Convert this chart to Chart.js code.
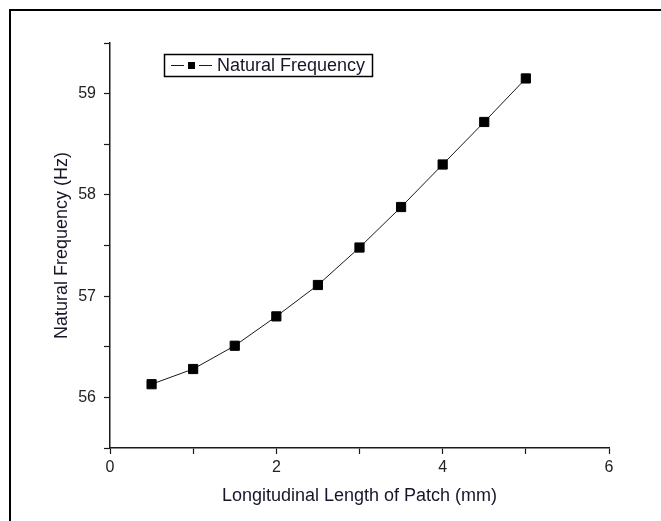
<!DOCTYPE html>
<html>
<head>
<meta charset="utf-8">
<script src="https://cdn.jsdelivr.net/npm/chart.js@4/dist/chart.umd.min.js"></script>
<style>
  html, body { margin: 0; padding: 0; background: #fff; }
  canvas { display: block; }
</style>
</head>
<body>
<canvas id="chart" width="661" height="521"></canvas>
<script>
const lengths = [0.5, 1, 1.5, 2, 2.5, 3, 3.5, 4, 4.5, 5];
const frequencies = [56.13, 56.28, 56.51, 56.80, 57.11, 57.48, 57.88, 58.30, 58.72, 59.15];
const xTickLabels = [0, 2, 4, 6];
const yTickLabels = [56, 57, 58, 59];
const seriesName = "Natural Frequency";

const INK = "#1a1a1a";
const TEXT = "#16162a";
Chart.defaults.font.family = "'Liberation Sans', Arial, sans-serif";

// outer frame of the figure, as in the original export
const framePlugin = {
    id: "frame",
    afterDraw(chart) {
        const ctx = chart.ctx;
        ctx.save();
        ctx.strokeStyle = "#000";
        ctx.lineWidth = 2;
        ctx.beginPath();
        ctx.moveTo(10, 521);
        ctx.lineTo(10, 10);
        ctx.lineTo(661, 10);
        ctx.stroke();
        ctx.restore();
    },
};

// Origin-style legend box inside the plot
const legendBox = {
    id: "legendBox",
    afterDraw(chart) {
        const ctx = chart.ctx;
        const ds = chart.data.datasets[0];
        ctx.save();
        ctx.strokeStyle = "#000";
        ctx.lineWidth = 1.5;
        ctx.strokeRect(164.5, 54.5, 208, 22);
        ctx.strokeStyle = INK;
        ctx.lineWidth = 1.2;
        ctx.beginPath();
        ctx.moveTo(171, 65.5); ctx.lineTo(184, 65.5);
        ctx.moveTo(199, 65.5); ctx.lineTo(212, 65.5);
        ctx.stroke();
        ctx.fillStyle = "#000";
        ctx.fillRect(188, 62, 7, 7);
        ctx.fillStyle = TEXT;
        ctx.font = "18px 'Liberation Sans', Arial, sans-serif";
        ctx.textBaseline = "alphabetic";
        ctx.fillText(ds.label, 217, 71);
        ctx.restore();
    },
};

new Chart(document.getElementById("chart"), {
    type: "line",
    data: {
        datasets: [{
            label: seriesName,
            data: lengths.map((x, i) => ({ x, y: frequencies[i] })),
            borderColor: INK,
            borderWidth: 1,
            tension: 0,
            pointStyle: "rect",
            pointRadius: 6.5,
            pointBackgroundColor: "#000",
            pointBorderColor: "#000",
            pointBorderWidth: 1,
        }],
    },
    options: {
        responsive: false,
        animation: false,
        layout: { padding: { left: 0, top: 43, right: 52, bottom: 0 } },
        plugins: { legend: { display: false }, tooltip: { enabled: false } },
        scales: {
            x: {
                type: "linear",
                min: 0, max: 6,
                afterFit: s => { s.height = 73; },
                grid: { drawOnChartArea: false, tickLength: 6, tickColor: INK, tickWidth: 1.2 },
                border: { color: INK, width: 1.5 },
                ticks: {
                    stepSize: 1, autoSkip: false, maxRotation: 0, padding: 4,
                    color: "#222", font: { size: 16 },
                    callback: v => xTickLabels.includes(v) ? String(v) : "",
                },
                title: {
                    display: true, text: "Longitudinal Length of Patch (mm)",
                    color: TEXT, font: { size: 18 }, padding: { top: 0, bottom: 14 },
                },
            },
            y: {
                min: 55.5, max: 59.5,
                afterFit: s => { s.width = 110; },
                grid: { drawOnChartArea: false, tickLength: 6, tickColor: INK, tickWidth: 1.2 },
                border: { color: INK, width: 1.5 },
                ticks: {
                    stepSize: 0.5, autoSkip: false, padding: 8,
                    color: "#222", font: { size: 16 },
                    callback: v => yTickLabels.includes(v) ? String(v) : "",
                },
                title: {
                    display: true, text: "Natural Frequency (Hz)",
                    color: TEXT, font: { size: 18 }, padding: { top: 51, bottom: 0 },
                },
            },
        },
    },
    plugins: [framePlugin, legendBox],
});
</script>
</body>
</html>
